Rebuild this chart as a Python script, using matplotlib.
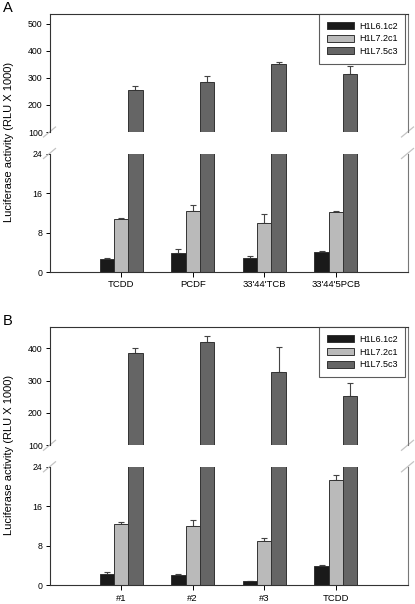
import matplotlib
matplotlib.use("Agg")
import matplotlib.pyplot as plt
import numpy as np

plt.rcParams['font.family'] = ['Liberation Sans', 'DejaVu Sans']

# ---------------------------------------------------------------------------
# data (RLU x 1000), error = upper bar only
series = ["H1L6.1c2", "H1L7.2c1", "H1L7.5c3"]
colors = ["#1a1a1a", "#bababa", "#656565"]

cats_a = ["TCDD", "PCDF", "33'44'TCB", "33'44'5PCB"]
black_a = [2.7, 3.85, 2.75, 4.0]
black_a_err = [0.2, 0.75, 0.55, 0.3]
light_a = [10.7, 12.4, 10.0, 12.1]
light_a_err = [0.3, 1.2, 1.8, 0.3]
dark_a = [257, 284, 351, 314]
dark_a_err = [12, 25, 7, 30]

cats_b = ["#1", "#2", "#3", "TCDD"]
black_b = [2.3, 2.0, 0.8, 3.9]
black_b_err = [0.3, 0.2, 0.0, 0.15]
light_b = [12.5, 12.0, 9.0, 21.3]
light_b_err = [0.3, 1.2, 0.5, 1.1]
dark_b = [384, 418, 326, 252]
dark_b_err = [17, 21, 78, 41]

upper_ticks_a = [100, 200, 300, 400, 500]
upper_ticks_b = [100, 200, 300, 400]
lower_ticks = [0, 8, 16, 24]

W, H = 415, 604
fig = plt.figure(figsize=(W / 100, H / 100), dpi=100)


def px_axes(left, top, right, bottom):
    return fig.add_axes([left / W, 1 - bottom / H, (right - left) / W, (bottom - top) / H])


def draw_bars(ax, vals, errs):
    x = np.arange(len(vals[0]))
    for i in range(3):
        xi = x + (i - 1) * 0.2
        ax.bar(xi, vals[i], width=0.2, color=colors[i], edgecolor="#333333",
               linewidth=0.7, label=series[i], zorder=2)
        ax.errorbar(xi, vals[i], yerr=[np.zeros(len(errs[i])), errs[i]], fmt="none",
                    ecolor="#444444", elinewidth=0.8, capsize=2.3, capthick=0.8, zorder=1)
    ax.set_xlim(-1, 4)


def break_marks(ax, where):
    # small light slashes where the y axis is broken
    y = 0 if where == "bottom" else 1
    kw = dict(transform=ax.transAxes, color="#c4c4c4", lw=0.9, clip_on=False)
    dx, dy = 6 / 358, 5 / 118
    for x in (0, 1):
        ax.plot([x - dx, x + dx], [y - dy, y + dy], **kw)


def panel(top, cats, vals, errs, ylim_up, ticks_up, letter):
    up = px_axes(49.5, top, 407.5, top + 118)
    lo = px_axes(49.5, top + 139.5, 407.5, top + 258)
    for ax in (up, lo):
        draw_bars(ax, vals, errs)
        for s in ax.spines.values():
            s.set_color("#333333")
            s.set_linewidth(0.8)
        ax.spines["right"].set_color("#777777")
        ax.tick_params(axis="y", labelsize=6.3, length=3, width=0.7, direction="out", pad=2)
    up.set_ylim(*ylim_up)
    up.set_yticks(ticks_up)
    up.spines["bottom"].set_visible(False)
    up.set_xticks([])
    lo.set_ylim(0, 24)
    lo.set_yticks(lower_ticks)
    lo.spines["top"].set_visible(False)
    lo.set_xticks(np.arange(len(cats)))
    lo.set_xticklabels(cats)
    lo.tick_params(axis="x", labelsize=6.8, length=3.5, width=0.7, direction="out", pad=2.5)
    break_marks(up, "bottom")
    break_marks(lo, "top")

    leg = up.legend(loc="upper right", bbox_to_anchor=(0.994, 1.0), borderaxespad=0,
                    fontsize=6.5, frameon=True, fancybox=False, edgecolor="#333333",
                    handlelength=3.0, handleheight=0.8, borderpad=0.85, labelspacing=0.4,
                    handletextpad=0.6)
    leg.get_frame().set_linewidth(0.8)

    fig.text(3 / W, 1 - (top - 6) / H, letter, fontsize=10.5, va="center", ha="left")
    fig.text(9 / W, 1 - (top + 128) / H, "Luciferase activity (RLU X 1000)", fontsize=8,
             rotation=90, va="center", ha="center")


panel(14, cats_a, [black_a, light_a, dark_a], [black_a_err, light_a_err, dark_a_err],
      (100, 537), upper_ticks_a, "A")
panel(327.3, cats_b, [black_b, light_b, dark_b], [black_b_err, light_b_err, dark_b_err],
      (100, 465), upper_ticks_b, "B")

fig.savefig("out.png", dpi=100)
